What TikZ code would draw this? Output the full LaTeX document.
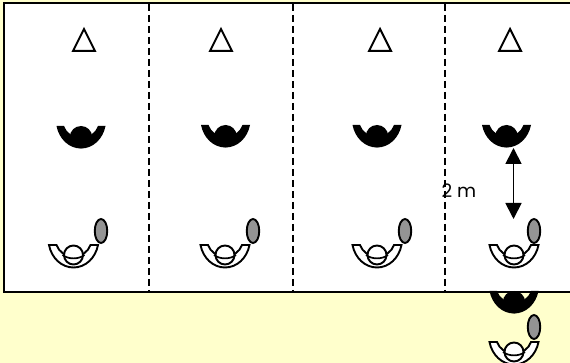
\documentclass[tikz,border=0pt]{standalone}
\usepackage{fontspec}
\setmainfont{Poppins}
\definecolor{bgy}{HTML}{FFFFCC}
\tikzset{x=1pt,y=-1pt,
 crescent/.pic={\path[pic actions] (-24.5,0) .. controls (-22,13) and (-12,22.5) .. (0,22.5) .. controls (12,22.5) and (22,13) .. (24.5,0) -- (17,0) .. controls (14.5,7) and (8,11.5) .. (0,11.5) .. controls (-8,11.5) and (-14.5,7) .. (-17,0) -- cycle;},
 blackman/.pic={\fill pic[fill=black]{crescent};\fill (0,11.2) circle[radius=11.2];},
 whiteman/.pic={\path pic[draw=black,line width=1.9pt,fill=white]{crescent};\draw[line width=1.9pt,fill=white] (0,10) circle[radius=9.5];
   \draw[line width=1.7pt] (-11,10) .. controls (-5,14.5) and (5,14.5) .. (11,10);},
 disc/.style={draw=black,line width=1.9pt,fill=black!42,ellipse,minimum width=12.5pt,minimum height=24pt,inner sep=0pt},
 cone/.style={draw=black,line width=2pt,line join=miter,fill=white},
 divider/.style={draw=black,line width=2pt,dash pattern=on 7pt off 4pt},
 frameline/.style={draw=black,line width=2pt,fill=white}}
\usetikzlibrary{shapes.geometric,arrows.meta}
\begin{document}
\begin{tikzpicture}
\useasboundingbox (0,0) rectangle (570,363);
\fill[bgy] (0,0) rectangle (570,363);
\path[frameline] (4,3) rectangle (575,292);
\clip (0,0) rectangle (570,363);
\coordinate (d1a) at (149,4); \coordinate (d1b) at (149,291);
\coordinate (d2a) at (293,4); \coordinate (d2b) at (293,291);
\coordinate (d3a) at (445,4); \coordinate (d3b) at (445,291);
\draw[divider] (d1a) -- (d1b);
\draw[divider] (d2a) -- (d2b);
\draw[divider] (d3a) -- (d3b);
\foreach \x in {84,221,380,510}{\path[cone] (\x,29) -- (\x+11,51) -- (\x-11,51) -- cycle;}
\pic at (81,126) {blackman};
\pic at (225.5,125) {blackman};
\pic at (377,125) {blackman};
\pic at (506.5,125) {blackman};
\pic at (73.5,245) {whiteman};
\pic at (225,245) {whiteman};
\pic at (377,245) {whiteman};
\pic at (514,245) {whiteman};
\node[disc] (e1) at (101,231) {};
\node[disc] (e2) at (253,231) {};
\node[disc] (e3) at (405,231) {};
\node[disc] (e4) at (534,231) {};
\pic at (514,291) {blackman};
\draw[line width=2pt] (4,292) -- (570,292);
\node[disc] (e5) at (534,327) {};
\pic at (514,342) {whiteman};
\coordinate (a1) at (513.5,148);
\coordinate (a2) at (513.5,219);
\draw[line width=1.8pt,{Triangle[length=16pt,width=16pt]}-{Triangle[length=16pt,width=16pt]}] (a1) -- (a2);
\node[font=\fontsize{18.5}{19}\selectfont,inner sep=0pt,anchor=center] (lbl) at (459,190.5) {2 m};
\end{tikzpicture}
\end{document}
